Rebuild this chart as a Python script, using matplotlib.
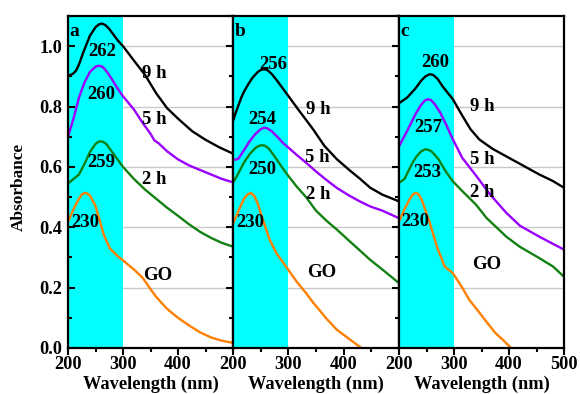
import matplotlib
matplotlib.use("Agg")
import matplotlib.pyplot as plt
from matplotlib.ticker import MultipleLocator

plt.rcParams['font.family'] = ['Liberation Serif', 'DejaVu Serif']
plt.rcParams['font.weight'] = 'bold'

# ---- spectra (wavelength in nm, absorbance) ----
# panel a
a_9h_x = [200, 205, 210, 215, 220, 230, 240, 250, 256, 262, 268, 275, 282, 290, 300, 320, 340, 360, 380, 400, 426, 450, 475, 500]
a_9h_y = [0.904, 0.905, 0.91, 0.92, 0.94, 0.99, 1.035, 1.063, 1.072, 1.075, 1.07, 1.057, 1.04, 1.02, 1.0, 0.952, 0.905, 0.845, 0.795, 0.76, 0.718, 0.69, 0.665, 0.644]
a_5h_x = [200, 210, 220, 230, 240, 250, 255, 260, 265, 272, 280, 290, 300, 320, 336, 350, 357, 365, 380, 400, 420, 440, 460, 480, 500]
a_5h_y = [0.70, 0.76, 0.83, 0.88, 0.915, 0.932, 0.935, 0.934, 0.928, 0.912, 0.89, 0.86, 0.834, 0.79, 0.745, 0.71, 0.688, 0.678, 0.652, 0.625, 0.605, 0.59, 0.575, 0.56, 0.549]
a_2h_x = [200, 210, 220, 230, 240, 250, 255, 259, 264, 270, 280, 290, 300, 320, 340, 360, 380, 400, 420, 440, 460, 480, 500]
a_2h_y = [0.545, 0.56, 0.575, 0.61, 0.65, 0.676, 0.683, 0.685, 0.683, 0.675, 0.65, 0.625, 0.60, 0.56, 0.525, 0.495, 0.465, 0.438, 0.41, 0.385, 0.365, 0.348, 0.336]
a_go_x = [200, 210, 220, 225, 230, 235, 240, 250, 258, 265, 276, 290, 300, 320, 336, 350, 360, 380, 400, 420, 440, 460, 480, 500]
a_go_y = [0.418, 0.46, 0.495, 0.508, 0.514, 0.512, 0.505, 0.47, 0.42, 0.375, 0.33, 0.305, 0.29, 0.26, 0.232, 0.195, 0.17, 0.13, 0.10, 0.075, 0.052, 0.035, 0.024, 0.017]

# panel b
b_9h_x = [200, 205, 209, 215, 220, 228, 235, 245, 250, 256, 262, 270, 280, 290, 300, 320, 345, 365, 388, 410, 430, 448, 470, 500]
b_9h_y = [0.752, 0.78, 0.80, 0.83, 0.85, 0.875, 0.895, 0.915, 0.921, 0.924, 0.921, 0.908, 0.885, 0.86, 0.835, 0.785, 0.724, 0.67, 0.625, 0.59, 0.56, 0.531, 0.508, 0.486]
b_5h_x = [200, 205, 210, 218, 230, 240, 250, 256, 262, 270, 280, 290, 300, 315, 332, 350, 370, 388, 410, 430, 448, 470, 500]
b_5h_y = [0.625, 0.624, 0.628, 0.65, 0.685, 0.708, 0.725, 0.73, 0.728, 0.718, 0.70, 0.68, 0.664, 0.64, 0.614, 0.585, 0.555, 0.53, 0.505, 0.485, 0.469, 0.455, 0.43]
b_2h_x = [200, 210, 220, 230, 240, 246, 252, 258, 265, 275, 290, 300, 315, 332, 350, 370, 388, 410, 430, 448, 470, 500]
b_2h_y = [0.547, 0.58, 0.615, 0.642, 0.662, 0.669, 0.672, 0.67, 0.66, 0.635, 0.595, 0.57, 0.535, 0.50, 0.455, 0.42, 0.392, 0.355, 0.322, 0.292, 0.26, 0.215]
b_go_x = [200, 210, 220, 226, 232, 238, 244, 254, 266, 278, 290, 300, 315, 332, 345, 356, 370, 388, 410, 432]
b_go_y = [0.412, 0.455, 0.495, 0.508, 0.514, 0.505, 0.482, 0.425, 0.36, 0.315, 0.285, 0.259, 0.22, 0.182, 0.15, 0.126, 0.095, 0.06, 0.03, 0.0]

# panel c
c_9h_x = [200, 215, 230, 240, 248, 256, 262, 270, 280, 298, 315, 330, 346, 370, 395, 420, 455, 480, 500]
c_9h_y = [0.811, 0.83, 0.86, 0.885, 0.9, 0.907, 0.905, 0.892, 0.865, 0.824, 0.77, 0.725, 0.691, 0.66, 0.635, 0.61, 0.575, 0.553, 0.531]
c_5h_x = [200, 215, 230, 240, 247, 252, 258, 265, 275, 287, 298, 315, 341, 365, 395, 420, 455, 480, 500]
c_5h_y = [0.668, 0.72, 0.775, 0.805, 0.82, 0.824, 0.822, 0.808, 0.78, 0.735, 0.691, 0.63, 0.569, 0.51, 0.448, 0.405, 0.369, 0.345, 0.326]
c_2h_x = [200, 210, 218, 225, 232, 240, 247, 253, 260, 272, 285, 298, 315, 340, 359, 380, 395, 420, 455, 480, 500]
c_2h_y = [0.547, 0.56, 0.59, 0.615, 0.635, 0.651, 0.658, 0.657, 0.65, 0.625, 0.585, 0.552, 0.52, 0.475, 0.431, 0.395, 0.369, 0.335, 0.298, 0.27, 0.236]
c_go_x = [200, 210, 220, 226, 231, 236, 242, 256, 270, 283, 298, 315, 328, 345, 359, 375, 390, 404]
c_go_y = [0.419, 0.46, 0.495, 0.51, 0.514, 0.508, 0.488, 0.414, 0.33, 0.27, 0.248, 0.2, 0.159, 0.12, 0.087, 0.05, 0.025, 0.0]

# peak positions (nm) per panel: 9 h, 5 h, 2 h, GO
peaks_a = ["262", "260", "259", "230"]
peaks_b = ["256", "254", "250", "230"]
peaks_c = ["260", "257", "253", "230"]
series_names = ["9 h", "5 h", "2 h", "GO"]
panel_letters = ["a", "b", "c"]

colors = ["#000000", "#9900FF", "#138013", "#FF8000"]

panels = [
    [(a_9h_x, a_9h_y), (a_5h_x, a_5h_y), (a_2h_x, a_2h_y), (a_go_x, a_go_y)],
    [(b_9h_x, b_9h_y), (b_5h_x, b_5h_y), (b_2h_x, b_2h_y), (b_go_x, b_go_y)],
    [(c_9h_x, c_9h_y), (c_5h_x, c_5h_y), (c_2h_x, c_2h_y), (c_go_x, c_go_y)],
]
peak_sets = [peaks_a, peaks_b, peaks_c]

# label anchor positions (data coords)
peak_pos = [
    [(263, 0.983), (261, 0.84), (261, 0.615), (231, 0.415)],
    [(272, 0.94), (252, 0.757), (252, 0.591), (231, 0.415)],
    [(265, 0.947), (254, 0.731), (252, 0.581), (229, 0.419)],
]
name_pos = [
    [(357, 0.91), (357, 0.757), (357, 0.558), (363, 0.239)],
    [(354, 0.79), (352, 0.631), (354, 0.508), (361, 0.249)],
    [(352, 0.80), (352, 0.625), (352, 0.515), (359, 0.276)],
]

W, H = 580, 394
fig = plt.figure(figsize=(W / 100, H / 100), dpi=100)

x_edges = [68, 233, 399, 564]
bottom_px, top_px = 348, 16
axes_h_px = bottom_px - top_px

fs = 13.5
tick_fs = 13.2
for i in range(3):
    left = x_edges[i] / W
    width_px = x_edges[i + 1] - x_edges[i]
    ax = fig.add_axes([left, 1 - bottom_px / H, width_px / W, axes_h_px / H])
    ax.set_xlim(200, 500)
    ax.set_ylim(0, 1.1)

    for g in [0.2, 0.4, 0.6, 0.8, 1.0]:
        ax.axhline(g, color="#c8c8c8", lw=1.0, zorder=0.5)
    ax.axvspan(200, 300, color="#00FFFF", lw=0, zorder=1)

    for (xs, ys), col in zip(panels[i], colors):
        ax.plot(xs, ys, color=col, lw=1.7, zorder=3, solid_joinstyle="round",
                solid_capstyle="round")

    for lab, (px, py) in zip(peak_sets[i], peak_pos[i]):
        ax.text(px, py, lab, ha="center", va="center", fontsize=fs,
                fontweight="bold", zorder=5)
    for lab, (px, py) in zip(series_names, name_pos[i]):
        ax.text(px, py, lab, ha="center", va="center", fontsize=fs,
                fontweight="bold", zorder=5)

    ax.text(203, 1.05, panel_letters[i], ha="left", va="center",
            fontsize=fs + 0.5, fontweight="bold", zorder=5)

    for s in ax.spines.values():
        s.set_linewidth(1.6)
        s.set_zorder(6)

    ax.xaxis.set_major_locator(MultipleLocator(100))
    ax.xaxis.set_minor_locator(MultipleLocator(50))
    ax.yaxis.set_major_locator(MultipleLocator(0.2))
    ax.yaxis.set_minor_locator(MultipleLocator(0.1))

    ax.tick_params(axis="x", which="major", direction="out", length=5, width=1.5,
                   labelsize=tick_fs, pad=1)
    ax.tick_params(axis="x", which="minor", direction="out", length=3, width=1.5)
    ax.tick_params(axis="x", top=False, which="both")

    if i == 0:
        ax.tick_params(axis="y", which="both", left=True, right=True,
                       direction="out", width=1.5, labelsize=tick_fs, pad=4)
        ax.tick_params(axis="y", which="major", length=6)
        ax.tick_params(axis="y", which="minor", length=3)
        ax.set_yticks([0.0, 0.2, 0.4, 0.6, 0.8, 1.0])
        ax.set_yticklabels(["0.0", "0.2", "0.4", "0.6", "0.8", "1.0"])
        ax.set_ylabel("Absorbance", fontsize=12.4, fontweight="bold")
        ax.yaxis.set_label_coords(-(68 - 19) / width_px, 0.485)
        ax.yaxis.label.set_va("center")
    else:
        ax.tick_params(axis="y", which="both", left=False, labelleft=False)

    if i < 2:
        ax.tick_params(axis="y", which="both", right=True, direction="in", width=1.5)
        ax.tick_params(axis="y", which="major", length=5)
        ax.tick_params(axis="y", which="minor", length=3)
    else:
        ax.tick_params(axis="y", which="both", right=False)

    if i < 2:
        ax.set_xticks([200, 300, 400])
        ax.set_xticklabels(["200", "300", "400"])
    else:
        ax.set_xticks([200, 300, 400, 500])
        ax.set_xticklabels(["200", "300", "400", "500"])
    for t in ax.get_xticklabels() + ax.get_yticklabels():
        t.set_fontweight("bold")

    ax.set_xlabel("Wavelength (nm)", fontsize=13.2, fontweight="bold")
    ax.xaxis.set_label_coords(0.5, -(384.5 - bottom_px) / axes_h_px)
    ax.xaxis.label.set_va("center")

fig.savefig("out.png", dpi=100)
